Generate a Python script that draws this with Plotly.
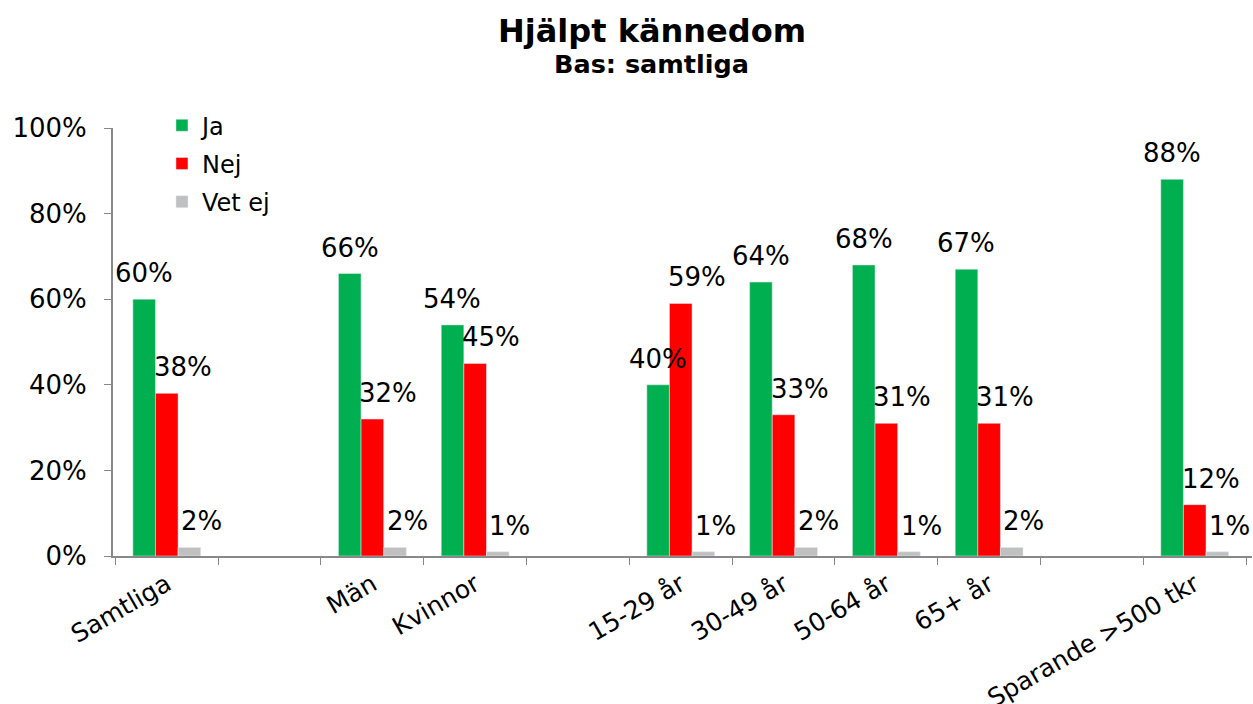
import plotly.graph_objects as go

categories = ["Samtliga", " ", "Män", "Kvinnor", "  ", "15-29 år", "30-49 år",
              "50-64 år", "65+ år", "   ", "Sparande >500 tkr"]
ja = [60, None, 66, 54, None, 40, 64, 68, 67, None, 88]
nej = [38, None, 32, 45, None, 59, 33, 31, 31, None, 12]
vet_ej = [2, None, 2, 1, None, 1, 2, 1, 2, None, 1]

series = [("Ja", ja, "#00B050"), ("Nej", nej, "#FF0000"), ("Vet ej", vet_ej, "#C0C0C0")]
label_nudge = [0, 16, 12]  # extra label offset (px) per series, as in the original

FONT = "DejaVu Sans, Verdana, sans-serif"
W, H = 1253, 704
ML, MR, MT, MB = 113, 1, 128, 148
BARGAP = 0.34

plot_w = W - ML - MR
slot_px = plot_w / len(categories)
bar_px = slot_px * (1 - BARGAP) / len(series)

fig = go.Figure()
annotations = []
for i, (name, vals, color) in enumerate(series):
    fig.add_trace(go.Bar(
        x=categories, y=vals, name=name, marker_color=color,
        legendgroup=name,
    ))
    offset = (i - (len(series) - 1) / 2) * bar_px + label_nudge[i]
    for c, v in zip(categories, vals):
        if v is None:
            continue
        annotations.append(dict(
            x=c, y=v, xref="x", yref="y", text=f"{v}%", showarrow=False,
            xanchor="center", yanchor="middle", xshift=offset, yshift=26,
            font=dict(size=26, family=FONT, color="black"),
        ))

annotations += [
    dict(text="<b>Hjälpt kännedom</b>", xref="paper", yref="paper",
         x=0.473, y=1.0, xanchor="center", yanchor="middle",
         yshift=97, showarrow=False, font=dict(size=32, family=FONT)),
    dict(text="<b>Bas: samtliga</b>", xref="paper", yref="paper",
         x=0.473, y=1.0, xanchor="center", yanchor="middle",
         yshift=64, showarrow=False, font=dict(size=25.5, family=FONT)),
]

fig.update_layout(
    width=W, height=H,
    margin=dict(l=ML, r=MR, t=MT, b=MB, autoexpand=False),
    paper_bgcolor="white", plot_bgcolor="white",
    barmode="group", bargap=BARGAP, bargroupgap=0,
    font=dict(family=FONT, color="black"),
    legend=dict(x=0.043, y=1.058, xanchor="left", yanchor="top",
                font=dict(size=24, family=FONT), tracegroupgap=4,
                bgcolor="rgba(0,0,0,0)"),
    annotations=annotations,
)
fig.update_xaxes(
    type="category", tickson="boundaries", ticks="outside", ticklen=7,
    tickcolor="#888888", showline=True, linecolor="#888888", linewidth=2,
    tickangle=-30, tickfont=dict(size=25, family=FONT), showgrid=False,
    automargin=False, ticklabelstandoff=2,
)
fig.update_yaxes(
    range=[0, 100], dtick=20, ticksuffix="%", ticks="outside", ticklen=7,
    tickcolor="#888888", showline=True, linecolor="#888888", linewidth=2,
    showgrid=False, zeroline=False, tickfont=dict(size=26, family=FONT),
    automargin=False, ticklabelstandoff=12,
)

fig.write_html(
    "out.html",
    config={"displayModeBar": False},
    post_script="document.body.style.margin='0';document.body.style.overflow='hidden';",
)
